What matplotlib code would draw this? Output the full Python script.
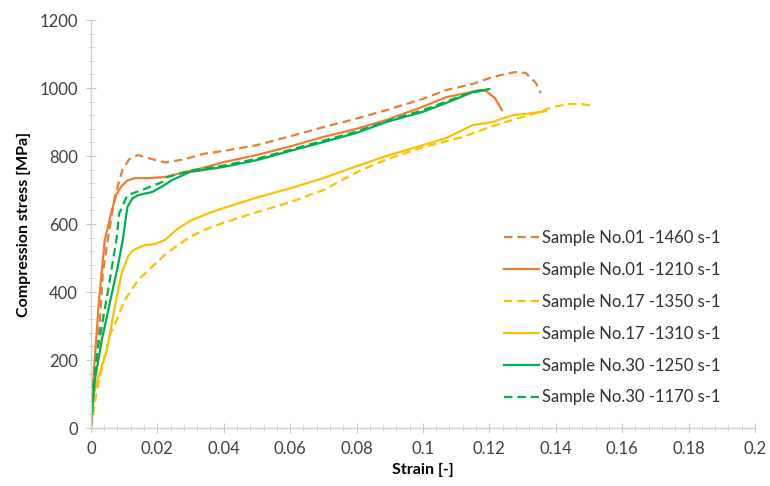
import matplotlib.pyplot as plt
from matplotlib.ticker import MultipleLocator, FuncFormatter

plt.rcParams['font.family'] = ['Lato', 'DejaVu Sans']

# Sample No.01 -1460 s-1 (dashed)
s01a_strain = [0, 0.0012, 0.0027, 0.0036, 0.0051, 0.0072, 0.0095, 0.0115, 0.0142, 0.018, 0.0223,
               0.028, 0.0337, 0.04, 0.05, 0.06, 0.07, 0.08, 0.089, 0.1, 0.107, 0.115, 0.12,
               0.125, 0.128, 0.131, 0.134, 0.1355]
s01a_stress = [0, 162, 309, 456, 553, 680, 760, 790, 803, 792, 781,
               790, 806, 815, 832, 858, 885, 910, 935, 968, 994, 1012, 1029,
               1042, 1047, 1044, 1015, 985]

# Sample No.01 -1210 s-1
s01b_strain = [0, 0.001, 0.0025, 0.0042, 0.0051, 0.0063, 0.0078, 0.0093, 0.011, 0.0133, 0.017,
               0.0223, 0.028, 0.0337, 0.04, 0.05, 0.06, 0.07, 0.08, 0.089, 0.1, 0.107,
               0.113, 0.117, 0.119, 0.1217, 0.1238]
s01b_stress = [0, 180, 380, 553, 590, 640, 690, 712, 728, 735, 735,
               738, 752, 765, 782, 803, 828, 856, 880, 906, 945, 973,
               985, 994, 991, 970, 935]

# Sample No.17 -1350 s-1 (dashed)
s17a_strain = [0, 0.002, 0.0057, 0.0078, 0.0102, 0.0142, 0.0184, 0.0223, 0.0268, 0.03, 0.035,
               0.04, 0.05, 0.06, 0.07, 0.08, 0.089, 0.1, 0.112, 0.12, 0.127, 0.135, 0.139,
               0.144, 0.148, 0.151]
s17a_stress = [0, 121, 273, 318, 376, 435, 474, 510, 542, 563, 586,
               604, 635, 664, 700, 752, 790, 826, 856, 885, 906, 929, 944,
               953, 953, 947]

# Sample No.17 -1310 s-1
s17b_strain = [0, 0.0003, 0.002, 0.0048, 0.0072, 0.0093, 0.0112, 0.0127, 0.0163, 0.0193, 0.0223,
               0.026, 0.03, 0.035, 0.04, 0.05, 0.06, 0.07, 0.08, 0.089, 0.1, 0.107, 0.115, 0.121,
               0.127, 0.132, 0.137]
s17b_stress = [0, 82, 141, 229, 356, 456, 505, 523, 538, 541, 553,
               585, 610, 630, 647, 678, 705, 735, 770, 800, 832, 853, 891, 900,
               920, 925, 932]

# Sample No.30 -1250 s-1
s30a_strain = [0, 0.0012, 0.0033, 0.0057, 0.0081, 0.0096, 0.011, 0.0125, 0.0142, 0.0184, 0.0214,
               0.0244, 0.0298, 0.04, 0.05, 0.06, 0.07, 0.08, 0.089, 0.1, 0.107, 0.115, 0.12]
s30a_stress = [0, 141, 259, 368, 474, 553, 650, 675, 685, 694, 710,
               729, 753, 768, 788, 815, 841, 868, 900, 930, 956, 988, 997]

# Sample No.30 -1170 s-1 (dashed)
s30b_strain = [0, 0.0003, 0.002, 0.0052, 0.0078, 0.0085, 0.011, 0.0154, 0.0214, 0.023, 0.03,
               0.04, 0.05, 0.06, 0.07, 0.08, 0.089, 0.1, 0.107, 0.113, 0.118]
s30b_stress = [0, 91, 229, 406, 560, 630, 685, 700, 723, 738, 757,
               772, 792, 818, 845, 872, 902, 935, 960, 982, 993]

orange = '#ED7D31'
yellow = '#FFC000'
green = '#00B050'

fig = plt.figure(figsize=(7.7, 4.86), dpi=100)
ax = fig.add_axes([0.118, 0.1193, 0.8625, 0.8395])

dash = (3.8, 2.2)
lw = 1.6
ax.plot(s01a_strain, s01a_stress, color=orange, lw=lw, dashes=dash, label='Sample No.01 -1460 s-1')
ax.plot(s01b_strain, s01b_stress, color=orange, lw=lw, label='Sample No.01 -1210 s-1')
ax.plot(s17a_strain, s17a_stress, color=yellow, lw=lw, dashes=dash, label='Sample No.17 -1350 s-1')
ax.plot(s17b_strain, s17b_stress, color=yellow, lw=lw, label='Sample No.17 -1310 s-1')
ax.plot(s30a_strain, s30a_stress, color=green, lw=lw, label='Sample No.30 -1250 s-1')
ax.plot(s30b_strain, s30b_stress, color=green, lw=lw, dashes=dash, label='Sample No.30 -1170 s-1')

ax.set_xlim(0, 0.2)
ax.set_ylim(0, 1200)
ax.xaxis.set_major_locator(MultipleLocator(0.02))
ax.xaxis.set_minor_locator(MultipleLocator(0.004))
ax.yaxis.set_major_locator(MultipleLocator(200))
ax.yaxis.set_minor_locator(MultipleLocator(40))
ax.xaxis.set_major_formatter(FuncFormatter(lambda v, p: '%g' % round(v, 3)))

for side in ['top', 'right']:
    ax.spines[side].set_visible(False)
for side in ['left', 'bottom']:
    ax.spines[side].set_color('#d0d0d0')
    ax.spines[side].set_linewidth(1.0)
ax.tick_params(which='major', direction='inout', length=7, color='#c8c8c8',
               labelsize=12, labelcolor='#404040', pad=6)
ax.tick_params(which='minor', direction='inout', length=4, color='#d0d0d0')

ax.set_xlabel('Strain [-]', fontsize=11.5, fontweight='bold', labelpad=4)
ax.set_ylabel('Compression stress [MPa]', fontsize=11.5, fontweight='bold', labelpad=6)

ax.legend(loc='lower left', bbox_to_anchor=(0.61, 0.035), frameon=False, fontsize=12,
          handlelength=2.1, handletextpad=0.15, labelspacing=0.95, borderpad=0,
          labelcolor='#303030')

fig.savefig('out.png', dpi=100)
